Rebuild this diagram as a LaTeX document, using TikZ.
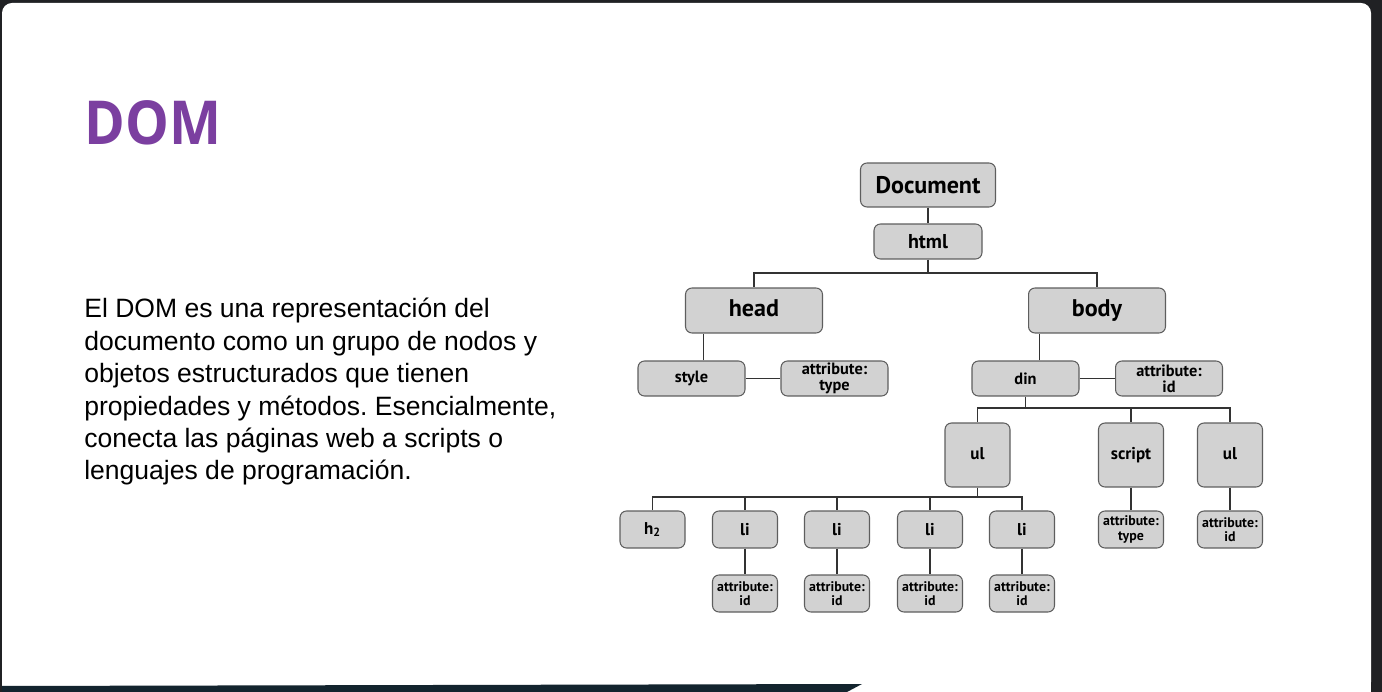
\documentclass[tikz,border=0pt]{standalone}
\usepackage{fontspec}
\setmainfont{Liberation Sans}
\newfontfamily\treefont{PT Sans}
\newfontfamily\titlefont{Open Sans}
\usetikzlibrary{positioning}
\definecolor{framedark}{HTML}{202124}
\definecolor{banddark}{HTML}{13242E}
\definecolor{titlepurple}{HTML}{7B3FA0}
\definecolor{boxfill}{HTML}{D2D2D2}
\definecolor{boxline}{HTML}{5E5E5E}
\definecolor{linkgray}{HTML}{333333}

\tikzset{
  domnode/.style={draw=boxline, fill=boxfill, line width=0.6pt, rounded corners=0.13cm, inner sep=0pt, align=center},
  docbox/.style={domnode, minimum width=2.70cm, minimum height=0.88cm, font=\treefont\bfseries\fontsize{13.7}{14}\selectfont},
  htmlbox/.style={domnode, minimum width=2.16cm, minimum height=0.70cm, font=\treefont\bfseries\fontsize{11.4}{12}\selectfont},
  bigbox/.style={domnode, minimum width=2.74cm, minimum height=0.90cm, text height=0.34cm, text depth=0.09cm, font=\treefont\bfseries\fontsize{13.7}{14}\selectfont},
  midbox/.style={domnode, minimum width=2.14cm, minimum height=0.70cm, font=\treefont\bfseries\fontsize{9.3}{8.9}\selectfont},
  tallbox/.style={domnode, minimum width=1.30cm, minimum height=1.28cm, text height=0.24cm, text depth=0.06cm, font=\treefont\bfseries\fontsize{9.7}{8}\selectfont},
  smallbox/.style={domnode, minimum width=1.30cm, minimum height=0.74cm, font=\treefont\bfseries\fontsize{9.7}{8}\selectfont},
  attrbox/.style={domnode, minimum width=1.30cm, minimum height=0.74cm, font=\treefont\bfseries\fontsize{7.9}{8}\selectfont},
  link/.style={draw=linkgray, line width=0.6pt}
}

\begin{document}
\frenchspacing
\begin{tikzpicture}[x=0.02cm, y=-0.02cm]

\useasboundingbox (0,0) rectangle (1382,692);

% slide frame
\fill[framedark] (0,0) rectangle (1382,692);
\fill[white, rounded corners=0.2cm] (2,3) rectangle (1371,692);
\fill[white] (2,640) rectangle (1371,692);
\fill[banddark] (0,686) -- (862,684) -- (847,692) -- (0,692) -- cycle;
\fill[framedark] (0,0) rectangle (2,692);

% title and text
\node (title) at (84,145) [anchor=base west, inner sep=0pt, xscale=0.91, text=titlepurple, font=\titlefont\bfseries\fontsize{34.5}{38}\selectfont] {DOM};

\node (intro) at (84,298) [anchor=north west, inner sep=0pt, align=left, font=\fontsize{15.1}{18.45}\selectfont] {El DOM es una representación del\\
documento como un grupo de nodos y\\
objetos estructurados que tienen\\
propiedades y métodos. Esencialmente,\\
conecta las páginas web a scripts o\\
lenguajes de programación.};

% tree
\node (doc) at (928,185) [docbox] {Document};
\node (html) at (928,241.5) [htmlbox] {html};
\node (head) at (754,310.5) [bigbox] {head};
\node (body) at (1097,310.5) [bigbox] {body};

\node (style) at (691.5,378.5) [midbox] {style};
\node (htype) at (834.5,378.5) [midbox] {attribute:\\type};
\node (din) at (1025.5,378.5) [midbox] {din};
\node (did) at (1169,378.5) [midbox] {attribute:\\id};

\node (ula) at (977.5,455) [tallbox] {ul};
\node (script) at (1131,455) [tallbox] {script};
\node (ulb) at (1230,455) [tallbox] {ul};

\node (h2) at (652.5,529.5) [smallbox] {h\textsubscript{2}};
\node (stype) at (1131,529.5) [attrbox] {attribute:\\type};
\node (ulid) at (1230,529.5) [attrbox] {attribute:\\id};

\coordinate (hbar) at (928,273);
\coordinate (dbar) at (1025.5,408);
\coordinate (ubar) at (977.5,497);

\draw[link] (doc) -- (html);
\draw[link] (html) -- (hbar) -| (head);
\draw[link] (hbar) -| (body);
\draw[link] ([xshift=0.24cm]style.north) -- ([xshift=0.24cm]style.north |- head.south);
\draw[link] (style) -- (htype);
\draw[link] ([xshift=0.28cm]din.north) -- ([xshift=0.28cm]din.north |- body.south);
\draw[link] (din) -- (did);
\draw[link] (din) -- (dbar) -| (ula);
\draw[link] (dbar) -| (script);
\draw[link] (dbar) -| (ulb);
\draw[link] (script) -- (stype);
\draw[link] (ulb) -- (ulid);
\draw[link] (ula) -- (ubar) -| (h2);

\foreach \n/\x in {lia/745, lib/837, lic/930, lid/1022}{
  \node (\n) at (\x,529.5) [smallbox] {li};
  \node (id\n) at (\x,593.5) [attrbox] {attribute:\\id};
  \draw[link] (ubar) -| (\n);
  \draw[link] (\n) -- (id\n);
}

\end{tikzpicture}
\end{document}
